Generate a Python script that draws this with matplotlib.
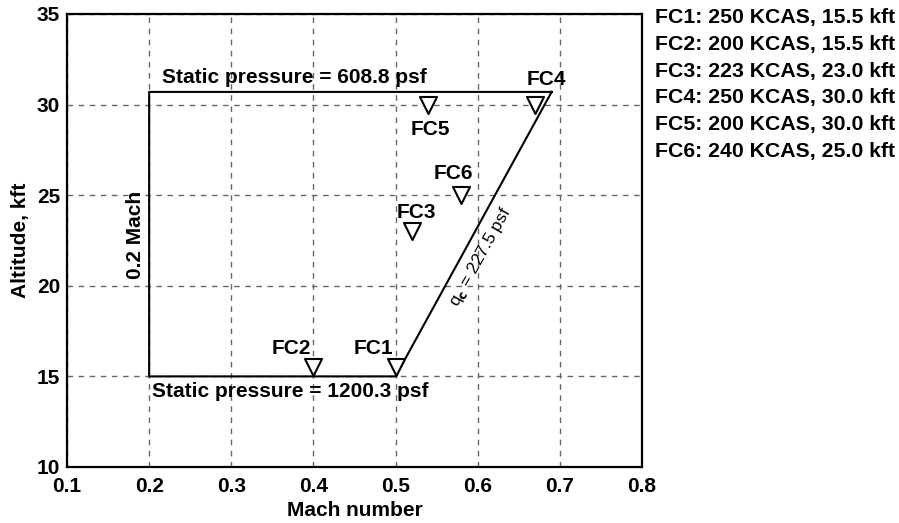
import matplotlib.pyplot as plt
import numpy as np

plt.rcParams['font.family'] = ['Liberation Sans', 'DejaVu Sans']
plt.rcParams['font.weight'] = 'bold'
plt.rcParams['axes.labelweight'] = 'bold'

# flight envelope boundary (Mach, kft)
env_mach = [0.69, 0.2, 0.2, 0.5, 0.69]
env_alt = [30.7, 30.7, 15.0, 15.0, 30.7]

# flight conditions
fc_names = ["FC1", "FC2", "FC3", "FC4", "FC5", "FC6"]
fc_mach = [0.50, 0.40, 0.52, 0.67, 0.54, 0.58]
fc_alt = [15.5, 15.5, 23.0, 30.0, 30.0, 25.0]
fc_kcas = [250, 200, 223, 250, 200, 240]
fc_kft = [15.5, 15.5, 23.0, 30.0, 30.0, 25.0]

# label offsets (Mach, kft) relative to marker
lbl_dx = [-0.027, -0.027, 0.005, 0.013, 0.002, -0.01]
lbl_dy = [1.04, 1.04, 1.07, 1.4, -1.35, 1.2]

fig = plt.figure(figsize=(8.99, 5.23), dpi=100)
ax = fig.add_axes([67 / 899, 1 - 467 / 523, (642 - 67) / 899, (467 - 14) / 523])

ax.plot(env_mach, env_alt, color='black', lw=1.5, zorder=3)
ax.scatter(fc_mach, fc_alt, marker='v', s=150, facecolor='white',
           edgecolor='black', linewidth=1.5, zorder=4)
for name, m, a, dx, dy in zip(fc_names, fc_mach, fc_alt, lbl_dx, lbl_dy):
    ax.text(m + dx, a + dy, name, ha='center', va='center', fontsize=15, zorder=5)

ax.text(0.2157, 31.2, "Static pressure = 608.8 psf", ha='left', va='baseline', fontsize=15)
ax.text(0.2035, 13.86, "Static pressure = 1200.3 psf", ha='left', va='baseline', fontsize=15)
ax.text(0.183, 22.8, "0.2 Mach", rotation=90, ha='center', va='center', fontsize=15)
ax.text(0.6035, 21.6, r"q$_\mathrm{c}$ = 227.5 psf", rotation=61, ha='center', va='center',
        fontsize=12.5, fontweight='normal')

ax.set_xlim(0.1, 0.8)
ax.set_ylim(10, 35)
ax.set_xticks(np.arange(0.1, 0.81, 0.1))
ax.set_xticklabels(["0.1", "0.2", "0.3", "0.4", "0.5", "0.6", "0.7", "0.8"])
ax.set_yticks([10, 15, 20, 25, 30, 35])
ax.tick_params(length=0, labelsize=15, pad=5)
ax.tick_params(axis='x', pad=7)
ax.grid(True, color='#666666', linestyle=(0, (4, 4)), lw=1.0)
for s in ax.spines.values():
    s.set_linewidth(1.6)
ax.set_xlabel("Mach number", fontsize=15, labelpad=4)
ax.set_ylabel("Altitude, kft", fontsize=15, labelpad=5)

for i, (name, k, h) in enumerate(zip(fc_names, fc_kcas, fc_kft)):
    fig.text(655 / 899, 1 - (18 + i * 26.6) / 523, f"{name}: {k} KCAS, {h:.1f} kft",
             ha='left', va='center', fontsize=15.3)

fig.savefig("out.png", dpi=100)
